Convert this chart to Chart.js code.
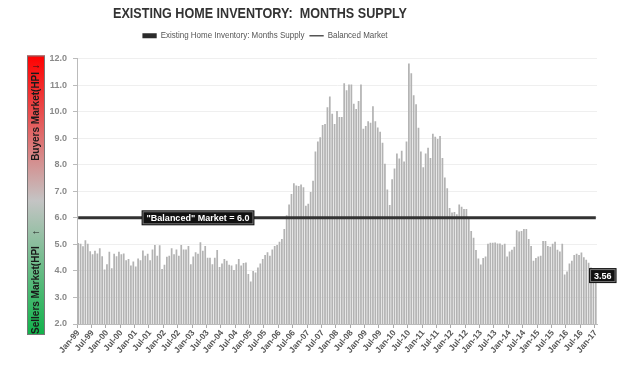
<!DOCTYPE html>
<html lang="en">
<head>
<meta charset="UTF-8">
<title>Existing Home Inventory: Months Supply</title>
<style>
  html, body { margin: 0; padding: 0; background: #fff; }
  #wrap { width: 623px; height: 365px; }
</style>
</head>
<body>
<div id="wrap"><canvas id="chart" width="623" height="365"></canvas></div>
<script src="https://cdn.jsdelivr.net/npm/chart.js"></script>
<script>
// months supply, one array per year (Jan..Dec)
const y1999 = [5.05, 5.02, 4.93, 5.15, 5.02, 4.74, 4.63, 4.76, 4.66, 4.85, 4.55, 4.05];
const y2000 = [4.25, 4.72, 4.10, 4.65, 4.55, 4.72, 4.63, 4.66, 4.40, 4.45, 4.20, 4.35];
const y2001 = [4.17, 4.47, 4.40, 4.77, 4.57, 4.65, 4.40, 4.81, 4.98, 4.57, 4.97, 4.07];
const y2002 = [4.23, 4.53, 4.57, 4.85, 4.63, 4.81, 4.57, 4.98, 4.81, 4.81, 4.94, 4.25];
const y2003 = [4.54, 4.70, 4.65, 5.08, 4.76, 4.94, 4.50, 4.50, 4.25, 4.50, 4.79, 4.15];
const y2004 = [4.28, 4.45, 4.38, 4.23, 4.20, 4.03, 4.25, 4.45, 4.20, 4.30, 4.32, 3.88];
const y2005 = [3.60, 4.00, 3.94, 4.13, 4.28, 4.45, 4.60, 4.70, 4.57, 4.81, 4.94, 4.98];
const y2006 = [5.10, 5.20, 5.58, 6.10, 6.50, 6.90, 7.30, 7.22, 7.20, 7.25, 7.15, 6.45];
const y2007 = [6.53, 6.97, 7.40, 8.50, 8.87, 9.03, 9.50, 9.53, 10.16, 10.57, 9.92, 9.53];
const y2008 = [10.02, 9.80, 9.80, 11.07, 10.80, 11.02, 11.02, 10.30, 10.10, 10.40, 11.02, 9.35];
const y2009 = [9.46, 9.64, 9.58, 10.20, 9.64, 9.40, 9.24, 8.83, 8.04, 7.07, 6.48, 7.45];
const y2010 = [7.86, 8.42, 8.23, 8.53, 8.12, 8.87, 11.81, 11.44, 10.62, 10.28, 9.39, 8.50];
const y2011 = [7.90, 8.42, 8.64, 8.25, 9.17, 9.05, 8.97, 9.08, 8.25, 7.52, 7.11, 6.37];
const y2012 = [6.20, 6.22, 6.13, 6.50, 6.42, 6.33, 6.33, 6.03, 5.50, 5.25, 4.79, 4.47];
const y2013 = [4.24, 4.49, 4.54, 5.02, 5.06, 5.06, 5.07, 5.03, 5.03, 4.98, 5.02, 4.54];
const y2014 = [4.73, 4.80, 4.91, 5.53, 5.48, 5.50, 5.58, 5.58, 5.20, 4.94, 4.38, 4.49];
const y2015 = [4.54, 4.57, 5.13, 5.13, 4.94, 4.91, 5.02, 5.10, 4.80, 4.73, 5.02, 3.86];
const y2016 = [3.98, 4.28, 4.38, 4.60, 4.65, 4.60, 4.69, 4.51, 4.42, 4.31, 4.13, 3.90];
const y2017 = [3.56];

const FIRST_YEAR = 1999;
const MONTH_NAMES = ['Jan', 'Feb', 'Mar', 'Apr', 'May', 'Jun', 'Jul', 'Aug', 'Sep', 'Oct', 'Nov', 'Dec'];
const BALANCED_LEVEL = 6.0;
const BALANCED_TEXT = '"Balanced" Market = 6.0';
const LAST_TEXT = '3.56';
const TITLE = 'EXISTING HOME INVENTORY:  MONTHS SUPPLY';
const SERIES_NAME = 'Existing Home Inventory: Months Supply';
const LINE_NAME = 'Balanced Market';
const SIDE_TOP = 'Buyers Market(HPI \u2193';
const SIDE_BOTTOM = 'Sellers Market(HPI    \u2191';

const PLAIN = "'Liberation Sans', Arial, sans-serif";
const SQUEEZE = 0.84; // header text in the original is condensed

// build categories from the year arrays
const yearly = [y1999, y2000, y2001, y2002, y2003, y2004, y2005, y2006, y2007, y2008,
                y2009, y2010, y2011, y2012, y2013, y2014, y2015, y2016, y2017];
const supply = [];
const labels = [];
yearly.forEach((arr, yi) => {
    arr.forEach((v, m) => {
        supply.push(v);
        labels.push(MONTH_NAMES[m] + '-' + String((FIRST_YEAR + yi) % 100).padStart(2, '0'));
    });
});
const balanced = supply.map(() => BALANCED_LEVEL);

// red / grey / green strip with the market captions
const sideStrip = {
    id: 'sideStrip',
    beforeDraw(chart) {
        const { ctx, chartArea } = chart;
        const x = 27, w = 18;
        const top = chartArea.top - 3, bottom = chartArea.bottom + 11;
        const g = ctx.createLinearGradient(0, top, 0, bottom);
        g.addColorStop(0, '#ff0000');
        g.addColorStop(0.52, '#c4c4c4');
        g.addColorStop(1, '#10b24a');
        ctx.save();
        ctx.fillStyle = g;
        ctx.fillRect(x, top, w, bottom - top);
        ctx.strokeStyle = '#777';
        ctx.lineWidth = 1;
        ctx.strokeRect(x + 0.5, top + 0.5, w - 1, bottom - top - 1);
        ctx.fillStyle = '#1a1a1a';
        ctx.font = 'bold 10px ' + PLAIN;
        ctx.textAlign = 'center';
        ctx.textBaseline = 'middle';
        ctx.translate(x + w / 2, 0);
        ctx.rotate(-Math.PI / 2);
        ctx.fillText(SIDE_TOP, -(top + 57), 0);
        ctx.fillText(SIDE_BOTTOM, -(bottom - 53), 0);
        ctx.restore();
    }
};

function blackBox(ctx, text, cx, cy) {
    ctx.font = 'bold 9px ' + PLAIN;
    const tw = ctx.measureText(text).width;
    const w = tw + 10, h = 15;
    ctx.fillStyle = '#111';
    ctx.fillRect(cx - w / 2, cy - h / 2, w, h);
    ctx.strokeStyle = '#777';
    ctx.lineWidth = 1;
    ctx.strokeRect(cx - w / 2 + 1.5, cy - h / 2 + 1.5, w - 3, h - 3);
    ctx.fillStyle = '#fff';
    ctx.textAlign = 'center';
    ctx.textBaseline = 'middle';
    ctx.fillText(text, cx, cy + 0.5);
}

// callout boxes for the balanced line and the latest value
const callouts = {
    id: 'callouts',
    afterDatasetsDraw(chart) {
        const { ctx, scales } = chart;
        ctx.save();
        blackBox(ctx, BALANCED_TEXT, scales.x.getPixelForValue(50), scales.y.getPixelForValue(BALANCED_LEVEL));
        const last = supply.length - 1;
        blackBox(ctx, LAST_TEXT, scales.x.getPixelForValue(last) + 7, scales.y.getPixelForValue(supply[last]) - 7);
        ctx.restore();
    }
};

function squeezeDraw(box, ctx) {
    const draw = box.draw.bind(box);
    box.draw = function () {
        const cx = (this.left + this.right) / 2;
        ctx.save();
        ctx.translate(cx, 0);
        ctx.scale(SQUEEZE, 1);
        ctx.translate(-cx, 0);
        draw();
        ctx.restore();
    };
}

// extra room under the legend, condensed header pulled a bit left like the original
const header = {
    id: 'header',
    beforeInit(chart) {
        const fit = chart.legend.fit;
        chart.legend.fit = function () {
            fit.bind(chart.legend)();
            this.height += 8;
        };
        squeezeDraw(chart.titleBlock, chart.ctx);
        squeezeDraw(chart.legend, chart.ctx);
    },
    afterLayout(chart) {
        chart.titleBlock.right -= 77;
        chart.legend.right -= 67;
    }
};

const ctx = document.getElementById('chart').getContext('2d');
new Chart(ctx, {
    data: {
        labels: labels,
        datasets: [
            {
                type: 'bar',
                label: SERIES_NAME,
                data: supply,
                backgroundColor: '#b3b3b3',
                borderWidth: 0,
                barPercentage: 0.72,
                categoryPercentage: 1.0,
                order: 2
            },
            {
                type: 'line',
                label: LINE_NAME,
                data: balanced,
                borderColor: '#333',
                borderWidth: 3,
                pointRadius: 0,
                order: 1
            }
        ]
    },
    options: {
        responsive: false,
        animation: false,
        layout: { padding: { left: 0, right: 26, top: 0, bottom: 0 } },
        plugins: {
            tooltip: { enabled: false },
            title: {
                display: true,
                text: TITLE,
                color: '#333',
                font: { family: PLAIN, size: 15, weight: 'bold' },
                padding: { top: 5, bottom: 2 }
            },
            legend: {
                display: true,
                labels: {
                    color: '#555',
                    font: { family: PLAIN, size: 9.5 },
                    usePointStyle: true,
                    pointStyleWidth: 17,
                    boxHeight: 5,
                    padding: 6,
                    generateLabels() {
                        return [
                            { text: SERIES_NAME, fillStyle: '#2b2b2b', strokeStyle: '#2b2b2b', lineWidth: 0,
                              pointStyle: 'rect', datasetIndex: 0, fontColor: '#555' },
                            { text: LINE_NAME, fillStyle: '#555', strokeStyle: '#555', lineWidth: 1.5,
                              pointStyle: 'line', datasetIndex: 1, fontColor: '#555' }
                        ];
                    }
                }
            }
        },
        scales: {
            x: {
                offset: true,
                grid: {
                    drawOnChartArea: false,
                    drawTicks: true,
                    tickLength: 4,
                    color: (c) => (c.index % 6 === 0 ? '#aaa' : 'rgba(0,0,0,0)')
                },
                border: { color: '#bbb' },
                ticks: {
                    autoSkip: false,
                    maxRotation: 50,
                    minRotation: 50,
                    padding: 0,
                    color: '#555',
                    font: { family: PLAIN, size: 8.5, weight: 'bold' },
                    callback: (v, i) => (i % 6 === 0 ? labels[i] : '')
                },
                afterFit(scale) { scale.height = 41; }
            },
            y: {
                min: 2,
                max: 12,
                grid: { color: '#efefef', tickLength: 4, tickColor: '#bbb' },
                border: { color: '#bbb' },
                ticks: {
                    stepSize: 1,
                    padding: 6,
                    color: '#8a8a8a',
                    font: { family: PLAIN, size: 9, weight: 'bold' },
                    callback: (v) => v.toFixed(1)
                },
                afterFit(scale) { scale.width = 77; }
            }
        }
    },
    plugins: [sideStrip, callouts, header]
});
</script>
</body>
</html>
